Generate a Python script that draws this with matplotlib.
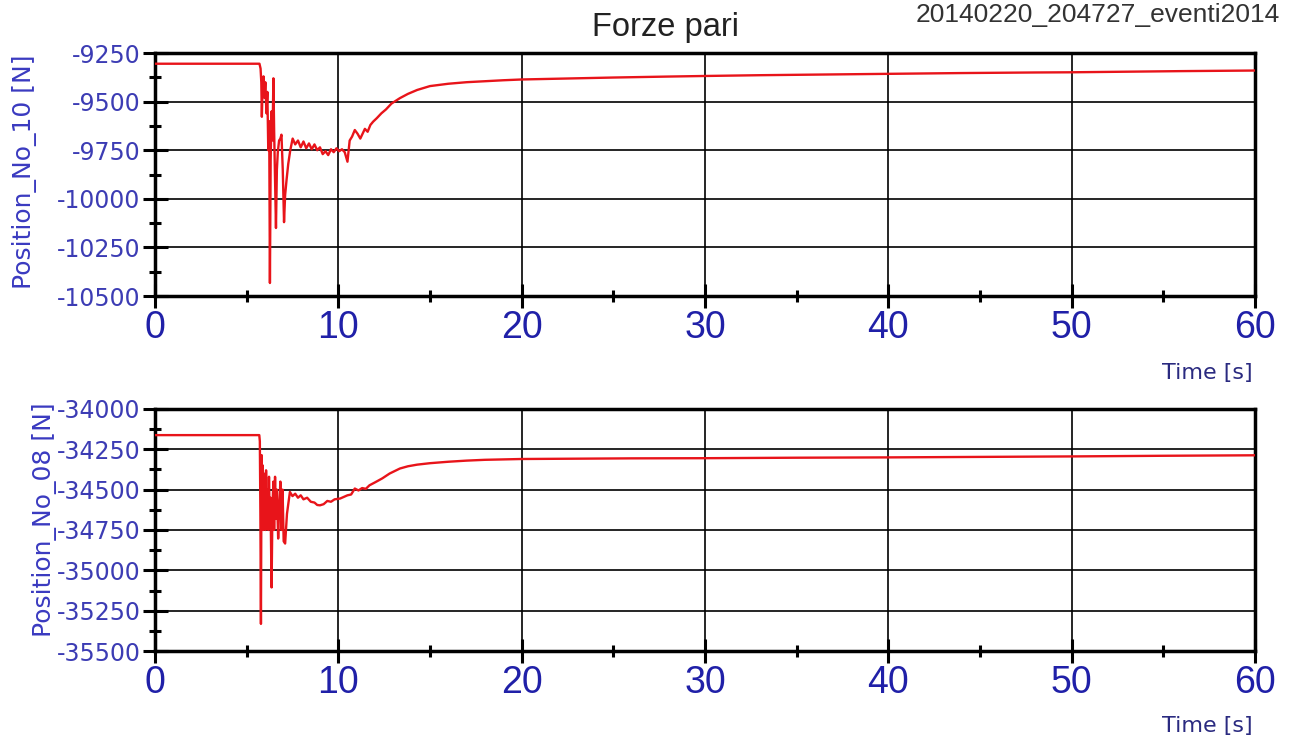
import numpy as np
import matplotlib
matplotlib.use("Agg")
import matplotlib.pyplot as plt
from matplotlib.ticker import MultipleLocator

plt.rcParams['axes.unicode_minus'] = False

# Position_No_10 [N] vs time (top panel)
t_top = [0, 5.7, 5.76, 5.8, 5.83, 5.87, 5.92, 5.97, 6.02, 6.08,
         6.13, 6.18, 6.23, 6.27, 6.31, 6.36, 6.41, 6.46, 6.5, 6.55,
         6.6, 6.65, 6.7, 6.77, 6.84, 6.9, 6.97, 7.04, 7.1, 7.18,
         7.27, 7.38, 7.51, 7.65, 7.8, 7.95, 8.1, 8.25, 8.4, 8.55,
         8.7, 8.85, 9.0, 9.15, 9.3, 9.45, 9.6, 9.75, 9.9, 10.05,
         10.2, 10.35, 10.5, 10.62, 10.75, 10.9, 11.05, 11.2, 11.3, 11.45,
         11.6, 11.75, 11.9, 12.1, 12.35, 12.6, 12.9, 13.36, 13.8, 14.3,
         15, 16, 17, 18, 19, 20, 22, 25, 28, 30,
         33, 36, 40, 44, 48, 50, 53, 56, 60]
f_top = [-9305, -9305, -9330, -9400, -9578, -9420, -9370, -9480, -9400, -9560,
         -9450, -9750, -9600, -10433, -9800, -9550, -9700, -9380, -9650, -9900,
         -10150, -9850, -9760, -9700, -9690, -9670, -9850, -10120, -9980, -9900,
         -9820, -9750, -9690, -9720, -9700, -9735, -9705, -9740, -9715, -9745,
         -9720, -9750, -9735, -9770, -9755, -9775, -9745, -9760, -9740, -9755,
         -9745, -9760, -9809, -9700, -9680, -9646, -9665, -9690, -9670, -9640,
         -9655, -9620, -9603, -9585, -9560, -9540, -9510, -9482, -9460, -9440,
         -9420, -9408, -9400, -9395, -9390, -9386, -9382, -9376, -9371, -9368,
         -9364, -9361, -9357, -9353, -9350, -9349, -9346, -9343, -9340]

# Position_No_08 [N] vs time (bottom panel)
t_bot = [0, 5.69, 5.72, 5.75, 5.78, 5.8, 5.82, 5.85, 5.88, 5.91,
         5.94, 5.97, 6.0, 6.03, 6.06, 6.1, 6.14, 6.18, 6.22, 6.26,
         6.3, 6.36, 6.41, 6.46, 6.5, 6.55, 6.6, 6.65, 6.72, 6.78,
         6.84, 6.9, 6.96, 7.02, 7.1, 7.2, 7.36, 7.5, 7.65, 7.8,
         7.95, 8.1, 8.3, 8.5, 8.7, 8.85, 9.0, 9.2, 9.4, 9.6,
         9.8, 10.1, 10.3, 10.5, 10.7, 10.9, 11.1, 11.3, 11.5, 11.7,
         12.0, 12.4, 12.8, 13.36, 13.8, 14.3, 15, 16, 17, 18,
         20, 23, 26, 30, 35, 40, 45, 50, 55, 60]
f_bot = [-34162, -34162, -34200, -34650, -35332, -34700, -34286, -34600, -34350, -34750,
         -34400, -34720, -34450, -34750, -34380, -34700, -34500, -34750, -34420, -34700,
         -34550, -35106, -34600, -34450, -34750, -34420, -34680, -34500, -34803, -34600,
         -34450, -34750, -34500, -34820, -34834, -34650, -34514, -34540, -34525, -34550,
         -34535, -34560, -34550, -34575, -34580, -34595, -34597, -34590, -34570, -34575,
         -34560, -34555, -34545, -34535, -34530, -34493, -34505, -34490, -34495, -34473,
         -34455, -34430, -34400, -34369, -34355, -34345, -34336, -34327, -34320, -34315,
         -34310, -34308, -34306, -34305, -34302, -34300, -34297, -34294, -34290, -34287]

x_ticks = [0, 10, 20, 30, 40, 50, 60]
y_ticks_top = [-10500, -10250, -10000, -9750, -9500, -9250]
y_ticks_bot = [-35500, -35250, -35000, -34750, -34500, -34250, -34000]

line_red = '#e8141a'
xtick_blue = '#2020a8'
ytick_blue = '#3c3cb4'
label_blue = '#3a3ac0'

fig = plt.figure(figsize=(12.99, 7.47), dpi=100)
ax1 = fig.add_axes([0.1193, 0.6037, 0.8468, 0.3253])
ax2 = fig.add_axes([0.1193, 0.1285, 0.8468, 0.3240])

for ax, t, f, yt in [(ax1, t_top, f_top, y_ticks_top), (ax2, t_bot, f_bot, y_ticks_bot)]:
    ax.plot(t, f, color=line_red, lw=1.7, zorder=3)
    ax.set_xlim(0, 60)
    ax.set_ylim(yt[0], yt[-1])
    ax.set_xticks(x_ticks)
    ax.set_xticklabels([str(v) for v in x_ticks], fontsize=27, color=xtick_blue,
                       family='Liberation Sans')
    ax.set_yticks(yt)
    ax.set_yticklabels([str(v) for v in yt], fontsize=17, color=ytick_blue,
                       family='DejaVu Sans')
    ax.xaxis.set_minor_locator(MultipleLocator(5))
    ax.yaxis.set_minor_locator(MultipleLocator(125))
    ax.tick_params(axis='x', which='major', direction='inout', length=17, width=2.2, pad=1.5)
    ax.tick_params(axis='x', which='minor', direction='inout', length=9, width=2.2)
    ax.tick_params(axis='y', which='major', direction='inout', length=18, width=2.2, pad=1.5)
    ax.tick_params(axis='y', which='minor', direction='inout', length=8, width=2.2)
    ax.grid(True, which='major', color='black', lw=1.2, zorder=1)
    for s in ax.spines.values():
        s.set_linewidth(2.5)
        s.set_color('black')

fig.text(0.0192, 0.7697, "Position_No_10 [N]", rotation=90, ha='center', va='center',
         fontsize=18, color=label_blue, family='DejaVu Sans')
fig.text(0.0346, 0.3039, "Position_No_08 [N]", rotation=90, ha='center', va='center',
         fontsize=18, color=label_blue, family='DejaVu Sans')

fig.text(0.9646, 0.5007, "Time [s]", ha='right', va='center', fontsize=16,
         color='#2a2a80', family='DejaVu Sans')
fig.text(0.9646, 0.0281, "Time [s]", ha='right', va='center', fontsize=16,
         color='#2a2a80', family='DejaVu Sans')

fig.text(0.5127, 0.952, "Forze pari", ha='center', va='baseline', fontsize=23.5,
         color='#222222', family='Liberation Sans')
fig.text(0.9854, 0.971, "20140220_204727_eventi2014", ha='right', va='baseline',
         fontsize=19, color='#333333', family='Liberation Sans')

fig.savefig("out.png", dpi=100)
